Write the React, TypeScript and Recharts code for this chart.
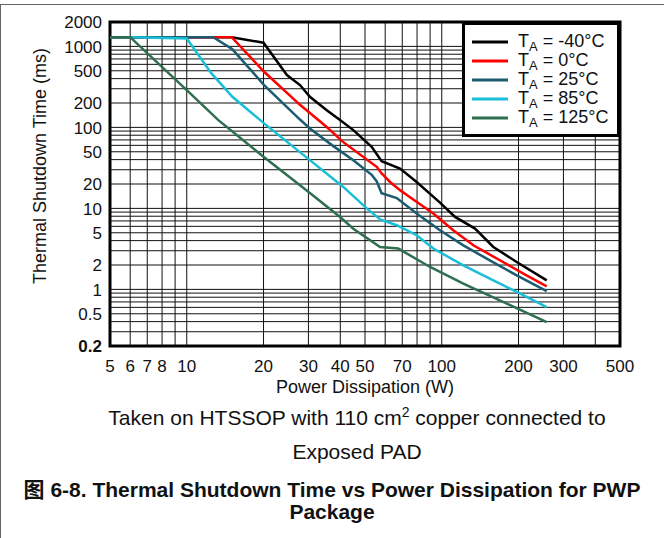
import React from "react";
import {
  LineChart,
  Line,
  XAxis,
  YAxis,
  CartesianGrid,
  ReferenceArea,
  Legend,
} from "recharts";

const FONT = '"Liberation Sans", Arial, Helvetica, "Noto Sans CJK SC", sans-serif';

// Axis ticks (grid positions) and the subset that is labelled
const X_TICKS = [5, 6, 7, 8, 9, 10, 20, 30, 40, 50, 60, 70, 80, 90, 100, 200, 300, 400, 500];
const X_LABELS = [5, 6, 7, 8, 10, 20, 30, 40, 50, 70, 100, 200, 300, 500];
const Y_TICKS = [
  0.2, 0.3, 0.4, 0.5, 0.6, 0.7, 0.8, 0.9, 1, 2, 3, 4, 5, 6, 7, 8, 9, 10, 20, 30, 40, 50, 60, 70,
  80, 90, 100, 200, 300, 400, 500, 600, 700, 800, 900, 1000, 2000,
];
const Y_LABELS = [0.2, 0.5, 1, 2, 5, 10, 20, 50, 100, 200, 500, 1000, 2000];

// Series
const SERIES_NAMES = ["-40°C", "0°C", "25°C", "85°C", "125°C"];
const SERIES_COLORS = ["#000000", "#ff0000", "#1b5c70", "#18bfd7", "#2e6f4f"];

const P_M40 = [5, 15, 20, 24.7, 27.8, 30.4, 35.4, 39.9, 45, 53.1, 58.1, 68.6, 79.7, 98.4, 112.7, 135, 159.3, 196.7, 258];
const T_M40 = [1300, 1300, 1110, 442, 333, 239, 163, 123, 92.5, 57.5, 38.3, 31.1, 21.2, 11.8, 7.84, 5.63, 3.34, 2.18, 1.29];

const P_0 = [5, 15, 20.1, 27.8, 35.4, 41, 50.8, 55.6, 58.1, 62.7, 68.6, 77.3, 92.7, 110.9, 133, 169, 215, 258];
const T_0 = [1300, 1300, 486, 190, 101, 66.2, 40.2, 32.6, 27, 21.2, 16.8, 12.9, 8.63, 5.37, 3.5, 2.29, 1.49, 1.09];

const P_25 = [5, 12.7, 15.1, 20.1, 27.8, 30.4, 37.1, 45, 53.1, 55.6, 58.1, 66.6, 79.7, 98.4, 121.5, 150, 196.7, 258];
const T_25 = [1300, 1300, 920, 333, 125, 97, 60.4, 39.4, 26, 21.5, 15.4, 13.4, 8.63, 5.37, 3.5, 2.4, 1.49, 0.95];

const P_85 = [5, 6, 10, 12.5, 15.1, 20.1, 30.4, 41.1, 50.8, 57.3, 66.6, 79.7, 92.7, 121.5, 159.3, 203, 258];
const T_85 = [1300, 1300, 1250, 464, 239, 112, 39.4, 18.4, 10, 7.3, 6.19, 4.66, 3.19, 1.98, 1.29, 0.886, 0.605];

const P_125 = [5, 6, 10, 13.3, 20, 30.4, 39.9, 45, 57.3, 67.5, 90, 121.5, 180, 258];
const T_125 = [1300, 1300, 289, 123, 43.3, 15.5, 7.84, 5.6, 3.34, 3.19, 1.89, 1.18, 0.667, 0.394];

const toPoints = (p: number[], t: number[]) => p.map((x, i) => ({ x, y: t[i] }));

const SERIES = [
  { name: SERIES_NAMES[0], color: SERIES_COLORS[0], data: toPoints(P_M40, T_M40) },
  { name: SERIES_NAMES[1], color: SERIES_COLORS[1], data: toPoints(P_0, T_0) },
  { name: SERIES_NAMES[2], color: SERIES_COLORS[2], data: toPoints(P_25, T_25) },
  { name: SERIES_NAMES[3], color: SERIES_COLORS[3], data: toPoints(P_85, T_85) },
  { name: SERIES_NAMES[4], color: SERIES_COLORS[4], data: toPoints(P_125, T_125) },
];

const XTick = (props: any) => {
  const { x, y, payload } = props;
  if (!X_LABELS.includes(payload.value)) return <g />;
  return (
    <text x={x} y={y + 18} textAnchor="middle" fontSize={17} fill="#111" fontFamily={FONT}>
      {payload.value}
    </text>
  );
};

const YTick = (props: any) => {
  const { x, y, payload } = props;
  if (!Y_LABELS.includes(payload.value)) return <g />;
  return (
    <text
      x={x}
      y={y}
      dy="0.36em"
      textAnchor="end"
      fontSize={17}
      fill="#111"
      fontFamily={FONT}
      fontWeight={payload.value === 0.2 ? "bold" : "normal"}
    >
      {payload.value}
    </text>
  );
};

const LegendBox = (props: any) => {
  const payload = [...(props.payload || [])].sort(
    (a: any, b: any) => SERIES_NAMES.indexOf(a.value) - SERIES_NAMES.indexOf(b.value)
  );
  return (
    <div
      style={{
        width: 158,
        height: 115,
        boxSizing: "border-box",
        border: "3px solid #000",
        background: "#fff",
        paddingTop: 7,
        paddingLeft: 7,
        fontFamily: FONT,
        color: "#111",
      }}
    >
      {payload.map((e: any) => (
        <div
          key={e.value}
          style={{ display: "flex", alignItems: "center", height: 19, fontSize: 18, lineHeight: "19px" }}
        >
          <svg width={36} height={4} style={{ display: "block" }}>
            <line x1={0} y1={2} x2={36} y2={2} stroke={e.color} strokeWidth={3} />
          </svg>
          <span style={{ marginLeft: 10, whiteSpace: "nowrap" }}>
            T
            <span style={{ fontSize: 13, position: "relative", top: 4 }}>A</span> = {e.value}
          </span>
        </div>
      ))}
    </div>
  );
};

export default function App() {
  return (
    <div
      style={{
        position: "absolute",
        left: 0,
        top: 0,
        width: 664,
        height: 538,
        background: "#fff",
        fontFamily: FONT,
        overflow: "hidden",
      }}
    >
      <div
        style={{
          position: "absolute",
          left: 0,
          top: 4,
          width: 664,
          height: 540,
          borderTop: "1px solid #666",
          borderLeft: "1px solid #666",
          boxSizing: "border-box",
        }}
      />
      <div style={{ position: "absolute", left: 0, top: 0 }}>
        <LineChart
          width={664}
          height={400}
          margin={{ top: 22, right: 44, bottom: 24, left: 0 }}
          style={{ fontFamily: FONT }}
        >
          <CartesianGrid stroke="#111" strokeWidth={1} />
          <XAxis
            dataKey="x"
            type="number"
            scale="log"
            domain={[5, 500]}
            ticks={X_TICKS}
            interval={0}
            allowDataOverflow
            tickLine={false}
            axisLine={false}
            tick={<XTick />}
            height={30}
            label={{
              content: (p: any) => {
                const vb = p.viewBox || { x: 110, y: 346, width: 510 };
                return (
                  <text
                    x={vb.x + vb.width / 2}
                    y={vb.y + 47}
                    textAnchor="middle"
                    fontSize={18}
                    fill="#111"
                    fontFamily={FONT}
                  >
                    Power Dissipation (W)
                  </text>
                );
              },
            }}
          />
          <YAxis
            dataKey="y"
            type="number"
            scale="log"
            domain={[0.2, 2000]}
            ticks={Y_TICKS}
            interval={0}
            allowDataOverflow
            tickLine={false}
            axisLine={false}
            tick={<YTick />}
            width={110}
            label={{
              content: (p: any) => {
                const vb = p.viewBox || { x: 0, y: 22, height: 324 };
                const cx = vb.x + 46;
                const cy = vb.y + vb.height / 2 - 18;
                return (
                  <text
                    x={cx}
                    y={cy}
                    transform={`rotate(-90 ${cx} ${cy})`}
                    textAnchor="middle"
                    fontSize={18}
                    fill="#111"
                    fontFamily={FONT}
                  >
                    Thermal Shutdown Time (ms)
                  </text>
                );
              },
            }}
          />
          {SERIES.map((s) => (
            <Line
              key={s.name}
              data={s.data}
              dataKey="y"
              name={s.name}
              type="linear"
              stroke={s.color}
              strokeWidth={2.5}
              dot={false}
              activeDot={false}
              isAnimationActive={false}
            />
          ))}
          <ReferenceArea
            x1={5}
            x2={500}
            y1={0.2}
            y2={2000}
            fill="none"
            fillOpacity={0}
            stroke="#000"
            strokeWidth={3}
            ifOverflow="visible"
          />
          <Legend
            layout="vertical"
            align="center"
            verticalAlign="middle"
            content={<LegendBox />}
            wrapperStyle={{ position: "absolute", left: 462, top: 22, width: 158, height: 115 }}
          />
        </LineChart>
      </div>
      <div
        style={{
          position: "absolute",
          left: 57,
          top: 402,
          width: 600,
          textAlign: "center",
          fontSize: 21,
          lineHeight: "32px",
          color: "#111",
          whiteSpace: "nowrap",
        }}
      >
        Taken on HTSSOP with 110 cm
        <span style={{ fontSize: 14, position: "relative", top: -8 }}>2</span> copper connected to
        <br />
        Exposed PAD
      </div>
      <div
        style={{
          position: "absolute",
          left: 0,
          top: 479,
          width: 664,
          textAlign: "center",
          fontSize: 21,
          lineHeight: "22px",
          fontWeight: "bold",
          color: "#111",
          whiteSpace: "nowrap",
        }}
      >
        图 6-8. Thermal Shutdown Time vs Power Dissipation for PWP
        <br />
        Package
      </div>
    </div>
  );
}
